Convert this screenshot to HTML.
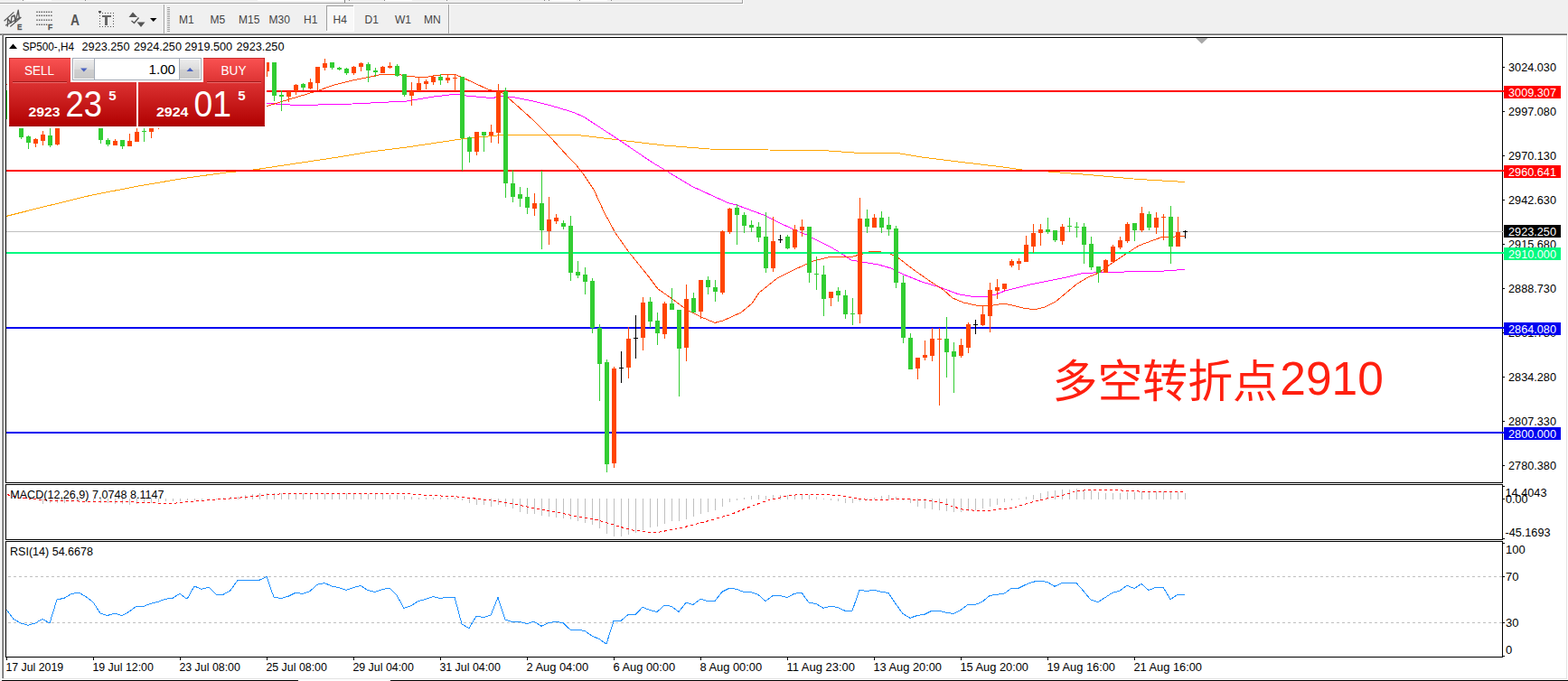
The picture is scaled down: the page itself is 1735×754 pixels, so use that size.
<!DOCTYPE html>
<html><head><meta charset="utf-8"><title>SP500-,H4</title>
<style>
html,body{margin:0;padding:0}
body{width:1735px;height:754px;background:#f0f0f0;overflow:hidden;position:relative;font-family:"Liberation Sans",sans-serif}
svg{position:absolute;left:0;top:0;display:block}
text{font-family:"Liberation Sans",sans-serif}
.ax{font-size:13px;fill:#000}
.tb{font-size:12px;fill:#444}
</style></head><body>
<svg width="1735" height="754" viewBox="0 0 1735 754">
<defs>
<linearGradient id="gtab" x1="0" y1="0" x2="0" y2="1"><stop offset="0" stop-color="#fa5252"/><stop offset="1" stop-color="#dc3232"/></linearGradient>
<linearGradient id="gbig" x1="0" y1="0" x2="0" y2="1"><stop offset="0" stop-color="#dc3232"/><stop offset="1" stop-color="#b00000"/></linearGradient>
<linearGradient id="gbtn" x1="0" y1="0" x2="0" y2="1"><stop offset="0" stop-color="#ececec"/><stop offset="0.5" stop-color="#dcdcdc"/><stop offset="0.5" stop-color="#d0d0d0"/><stop offset="1" stop-color="#c8c8c8"/></linearGradient>
<clipPath id="cmain"><rect x="7" y="42" width="1655" height="492"/></clipPath>
</defs>

<g shape-rendering="crispEdges">
<rect x="0" y="0" width="1735" height="754" fill="#f0f0f0"/>
<rect x="0" y="3" width="822" height="1" fill="#a0a0a0"/><rect x="0" y="4" width="823" height="1" fill="#fff"/>
<rect x="821" y="0" width="1" height="4" fill="#a0a0a0"/><rect x="822" y="0" width="1" height="5" fill="#fff"/>
<rect x="26" y="0" width="31" height="1" fill="#fff"/><rect x="25" y="0" width="1" height="1" fill="#888"/><rect x="94" y="0" width="1" height="1" fill="#888"/>
<rect x="608" y="0" width="30" height="1" fill="#fff"/><rect x="642" y="0" width="30" height="1" fill="#fff"/>
<rect x="602" y="0" width="1" height="1" fill="#888"/>
<rect x="607" y="0" width="1" height="1" fill="#888"/>
<rect x="641" y="0" width="1" height="1" fill="#888"/>
<rect x="676" y="0" width="1" height="1" fill="#888"/>
<rect x="386" y="0" width="1" height="1" fill="#888"/>
<rect x="425" y="0" width="1" height="1" fill="#888"/>
<rect x="494" y="0" width="1" height="1" fill="#888"/>
<rect x="285" y="0" width="95" height="1" fill="#fff"/><rect x="426" y="0" width="30" height="1" fill="#fff"/><rect x="381" y="0" width="1" height="3" fill="#888"/>
<rect x="0" y="37" width="1735" height="1" fill="#a0a0a0"/><rect x="0" y="38" width="1735" height="1" fill="#696969"/>
<rect x="0" y="39" width="1733" height="712" fill="#fff"/>
<rect x="2" y="38" width="1" height="713" fill="#a0a0a0"/><rect x="3" y="39" width="1" height="712" fill="#696969"/>
<rect x="0" y="39" width="1" height="713" fill="#f0f0f0"/><rect x="1" y="39" width="1" height="713" fill="#fff"/>
<rect x="1733" y="39" width="1" height="713" fill="#e3e3e3"/><rect x="1734" y="37" width="1" height="716" fill="#fff"/>
<rect x="3" y="751" width="1731" height="1" fill="#e3e3e3"/><rect x="1" y="752" width="1734" height="1" fill="#fff"/><rect x="2" y="753" width="1733" height="1" fill="#000"/><rect x="330" y="753" width="102" height="1" fill="#fff"/>
<rect x="181" y="5" width="1" height="32" fill="#a0a0a0"/><rect x="182" y="5" width="1" height="32" fill="#fff"/>
<rect x="185" y="8" width="3" height="1" fill="#a0a0a0"/>
<rect x="185" y="10" width="3" height="1" fill="#a0a0a0"/>
<rect x="185" y="12" width="3" height="1" fill="#a0a0a0"/>
<rect x="185" y="14" width="3" height="1" fill="#a0a0a0"/>
<rect x="185" y="16" width="3" height="1" fill="#a0a0a0"/>
<rect x="185" y="18" width="3" height="1" fill="#a0a0a0"/>
<rect x="185" y="20" width="3" height="1" fill="#a0a0a0"/>
<rect x="185" y="22" width="3" height="1" fill="#a0a0a0"/>
<rect x="185" y="24" width="3" height="1" fill="#a0a0a0"/>
<rect x="185" y="26" width="3" height="1" fill="#a0a0a0"/>
<rect x="185" y="28" width="3" height="1" fill="#a0a0a0"/>
<rect x="185" y="30" width="3" height="1" fill="#a0a0a0"/>
<rect x="185" y="32" width="3" height="1" fill="#a0a0a0"/>
<rect x="185" y="34" width="3" height="1" fill="#a0a0a0"/>
<rect x="496" y="5" width="1" height="32" fill="#a0a0a0"/><rect x="497" y="5" width="1" height="32" fill="#fff"/>
<rect x="361" y="6" width="31" height="29" fill="#f8f8f8"/><rect x="361" y="6" width="31" height="1" fill="#a0a0a0"/><rect x="361" y="6" width="1" height="29" fill="#a0a0a0"/><rect x="361" y="34" width="31" height="1" fill="#fff"/><rect x="391" y="6" width="1" height="29" fill="#fff"/>
</g>
<text class="tb" x="198" y="26">M1</text>
<text class="tb" x="232.5" y="26">M5</text>
<text class="tb" x="264" y="26">M15</text>
<text class="tb" x="297.5" y="26">M30</text>
<text class="tb" x="336" y="26">H1</text>
<text class="tb" x="368.5" y="26">H4</text>
<text class="tb" x="403.5" y="26">D1</text>
<text class="tb" x="437" y="26">W1</text>
<text class="tb" x="469" y="26">MN</text>
<g fill="none" stroke="#5a5a5a" stroke-width="1.2">
<path d="M4.6 23.2 L15.4 13.4 M6.1 28.2 L22.8 19.1 M11.3 29.5 L23.5 19.1"/>
<path d="M8.3 29.5 L8.7 20.6 L12 25.5 L13 18.5 L16.1 17 L16.9 24.3 L20.2 11.3 L21.3 19.9" stroke-width="1.4" stroke-linejoin="round"/>
</g>
<text x="19" y="32.8" font-size="9.8" font-weight="bold" fill="#555" stroke="#555" stroke-width="0.3" textLength="5.4" lengthAdjust="spacingAndGlyphs">E</text>
<g fill="#555">
<rect x="40.30" y="12.6" width="1.4" height="1.4"/>
<rect x="42.94" y="12.6" width="1.4" height="1.4"/>
<rect x="45.58" y="12.6" width="1.4" height="1.4"/>
<rect x="48.22" y="12.6" width="1.4" height="1.4"/>
<rect x="50.86" y="12.6" width="1.4" height="1.4"/>
<rect x="53.50" y="12.6" width="1.4" height="1.4"/>
<rect x="56.14" y="12.6" width="1.4" height="1.4"/>
<rect x="40.30" y="16.6" width="1.4" height="1.4"/>
<rect x="42.94" y="16.6" width="1.4" height="1.4"/>
<rect x="45.58" y="16.6" width="1.4" height="1.4"/>
<rect x="48.22" y="16.6" width="1.4" height="1.4"/>
<rect x="50.86" y="16.6" width="1.4" height="1.4"/>
<rect x="53.50" y="16.6" width="1.4" height="1.4"/>
<rect x="56.14" y="16.6" width="1.4" height="1.4"/>
<rect x="40.30" y="21.5" width="1.4" height="1.4"/>
<rect x="42.94" y="21.5" width="1.4" height="1.4"/>
<rect x="45.58" y="21.5" width="1.4" height="1.4"/>
<rect x="48.22" y="21.5" width="1.4" height="1.4"/>
<rect x="50.86" y="21.5" width="1.4" height="1.4"/>
<rect x="53.50" y="21.5" width="1.4" height="1.4"/>
<rect x="56.14" y="21.5" width="1.4" height="1.4"/>
<rect x="40.30" y="26.6" width="1.4" height="1.4"/>
<rect x="42.94" y="26.6" width="1.4" height="1.4"/>
<rect x="45.58" y="26.6" width="1.4" height="1.4"/>
<rect x="48.22" y="26.6" width="1.4" height="1.4"/>
<rect x="50.86" y="26.6" width="1.4" height="1.4"/>
</g>
<text x="53" y="32.8" font-size="9.8" font-weight="bold" fill="#555" stroke="#555" stroke-width="0.3" textLength="5.2" lengthAdjust="spacingAndGlyphs">F</text>
<text x="78" y="27.7" font-size="16.4" font-weight="bold" fill="#555" textLength="10" lengthAdjust="spacingAndGlyphs">A</text>
<g shape-rendering="crispEdges" fill="#555">
<rect x="110" y="14" width="1" height="1"/><rect x="110" y="29" width="1" height="1"/>
<rect x="113" y="14" width="1" height="1"/><rect x="113" y="29" width="1" height="1"/>
<rect x="116" y="14" width="1" height="1"/><rect x="116" y="29" width="1" height="1"/>
<rect x="119" y="14" width="1" height="1"/><rect x="119" y="29" width="1" height="1"/>
<rect x="122" y="14" width="1" height="1"/><rect x="122" y="29" width="1" height="1"/>
<rect x="125" y="14" width="1" height="1"/><rect x="125" y="29" width="1" height="1"/>
<rect x="110" y="14" width="1" height="1"/><rect x="125" y="14" width="1" height="1"/>
<rect x="110" y="17" width="1" height="1"/><rect x="125" y="17" width="1" height="1"/>
<rect x="110" y="20" width="1" height="1"/><rect x="125" y="20" width="1" height="1"/>
<rect x="110" y="23" width="1" height="1"/><rect x="125" y="23" width="1" height="1"/>
<rect x="110" y="26" width="1" height="1"/><rect x="125" y="26" width="1" height="1"/>
<rect x="110" y="29" width="1" height="1"/><rect x="125" y="29" width="1" height="1"/>
<rect x="109" y="12" width="3" height="2"/>
<rect x="113" y="17" width="10" height="2" fill="#666"/><rect x="116" y="19" width="3" height="9" fill="#666"/>
</g>
<path d="M147 13.5 L152 19 L142.5 19 Z M156 30 L160.5 24.5 L151.5 24.5 Z" fill="#555"/>
<path d="M145.5 23 L148.5 25.5 L153.5 19.5" fill="none" stroke="#555" stroke-width="1.4"/>
<path d="M166 20 L173.5 20 L169.75 24 Z" fill="#000"/>
<g shape-rendering="crispEdges" fill="#000">
<rect x="6" y="41" width="1657" height="1"/><rect x="6" y="41" width="1" height="494"/><rect x="6" y="534" width="1657" height="1"/><rect x="1662" y="41" width="1" height="687"/>
<rect x="6" y="536" width="1657" height="1"/><rect x="6" y="536" width="1" height="62"/><rect x="6" y="597" width="1657" height="1"/>
<rect x="6" y="599" width="1657" height="1"/><rect x="6" y="599" width="1" height="129"/><rect x="6" y="727" width="1657" height="1"/>
<rect x="1662" y="535" width="1" height="1" fill="#fff"/><rect x="1662" y="598" width="1" height="1" fill="#fff"/>
<rect x="7" y="728" width="1" height="3"/>
<rect x="103" y="728" width="1" height="3"/>
<rect x="199" y="728" width="1" height="3"/>
<rect x="295" y="728" width="1" height="3"/>
<rect x="391" y="728" width="1" height="3"/>
<rect x="487" y="728" width="1" height="3"/>
<rect x="583" y="728" width="1" height="3"/>
<rect x="679" y="728" width="1" height="3"/>
<rect x="775" y="728" width="1" height="3"/>
<rect x="871" y="728" width="1" height="3"/>
<rect x="967" y="728" width="1" height="3"/>
<rect x="1063" y="728" width="1" height="3"/>
<rect x="1159" y="728" width="1" height="3"/>
<rect x="1255" y="728" width="1" height="3"/>
<rect x="1663" y="74" width="2" height="1"/>
<rect x="1663" y="123" width="2" height="1"/>
<rect x="1663" y="172" width="2" height="1"/>
<rect x="1663" y="221" width="2" height="1"/>
<rect x="1663" y="270" width="2" height="1"/>
<rect x="1663" y="319" width="2" height="1"/>
<rect x="1663" y="368" width="2" height="1"/>
<rect x="1663" y="417" width="2" height="1"/>
<rect x="1663" y="466" width="2" height="1"/>
<rect x="1663" y="515" width="2" height="1"/>
<rect x="1663" y="538" width="2" height="1"/>
<rect x="1663" y="552" width="2" height="1"/>
<rect x="1663" y="596" width="2" height="1"/>
<rect x="1663" y="601" width="2" height="1"/>
<rect x="1663" y="638" width="2" height="1"/>
<rect x="1663" y="689" width="2" height="1"/>
<rect x="1663" y="726" width="2" height="1"/>
</g>
<path d="M1323 42 L1336.5 42 L1329.75 48.5 Z" fill="#a8a8a8"/>
<g clip-path="url(#cmain)">
<polyline points="7,239.4 50,228.6 100,216.4 150,206.6 200,198 250,191 266,189.6 284,187.6 290,186.6 330,180.6 370,174.6 410,168 450,163 490,157 510,154 556,149.4 562,149 635,149 685,155 735,161 785,165 850,166 910,166.5 945,169 990,169 1020,174 1060,179 1110,185 1135,188.5 1160,190 1210,194 1260,198.5 1311,201.5" fill="none" stroke="#FFA500" stroke-width="1" shape-rendering="crispEdges"/>
<polyline points="295,114.4 330,116.6 390,115 450,112 480,107 506,104 516,106 544,108.6 556,106.6 570,108 590,112 610,117 630,123 637,125.4 647,130 685,155 722,180 737,189 765,206 805,224.4 815,227 845,238 865,248 885,257 892,259.6 900,264 920,274 930,280 942,288 960,291 972,293 986,297 1000,304 1020,312 1040,318 1060,325.6 1076,328.4 1092,328.4 1102,326 1112,322 1140,315 1180,307 1196,303 1216,301.6 1227,301.2 1280,300.6 1311,298.4" fill="none" stroke="#FF00FF" stroke-width="1" shape-rendering="crispEdges"/>
<polyline points="295,117.6 320,110 350,101 370,94 390,89 410,85 422,82.4 438,82 450,84 462,85.4 474,85 482,83.4 502,82 510,85 540,99 556,103 570,115 590,133 610,153 630,175 637,182 645,192 657,210 669,236 681,258 695,278 711,298 716,304 728,320 744,331 760,343 776,351 791,357.4 800,355 820,346 832,336 840,324 860,308 880,298 900,289 920,284 940,285 955,281 963,278.4 972,278.4 985,281 992,284 1010,298 1030,312 1044,321 1054,330 1066,335 1080,338 1096,338.6 1110,336 1120,338 1134,341.6 1146,342.6 1156,340 1168,334 1180,324 1192,314 1204,307 1216,302 1228,293 1246,281 1260,272 1276,266 1287,262 1300,262 1311,261.4" fill="none" stroke="#FF4500" stroke-width="1" shape-rendering="crispEdges"/>
<g shape-rendering="crispEdges">
<rect x="7" y="100" width="1655" height="2" fill="#FF0000"/>
<rect x="7" y="188" width="1655" height="2" fill="#FF0000"/>
<rect x="7" y="279" width="1655" height="2" fill="#00FA80"/>
<rect x="7" y="362" width="1655" height="2" fill="#0000F0"/>
<rect x="7" y="478" width="1655" height="2" fill="#0000F0"/>
<rect x="7" y="256" width="1655" height="1" fill="#C0C0C0"/>
</g>
<g shape-rendering="crispEdges">
<rect x="7" y="100" width="1" height="32" fill="#32CD32"/>
<rect x="5" y="100" width="5" height="32" fill="#32CD32"/>
<rect x="23" y="135" width="1" height="19" fill="#32CD32"/>
<rect x="21" y="135" width="5" height="17" fill="#32CD32"/>
<rect x="31" y="150" width="1" height="15" fill="#32CD32"/>
<rect x="29" y="151" width="5" height="7" fill="#32CD32"/>
<rect x="39" y="153" width="1" height="10" fill="#FF4500"/>
<rect x="37" y="154" width="5" height="5" fill="#FF4500"/>
<rect x="47" y="145" width="1" height="16" fill="#FF4500"/>
<rect x="45" y="149" width="5" height="7" fill="#FF4500"/>
<rect x="55" y="135" width="1" height="28" fill="#32CD32"/>
<rect x="53" y="150" width="5" height="11" fill="#32CD32"/>
<rect x="63" y="135" width="1" height="26" fill="#FF4500"/>
<rect x="61" y="135" width="5" height="25" fill="#FF4500"/>
<rect x="111" y="135" width="1" height="24" fill="#32CD32"/>
<rect x="109" y="135" width="5" height="20" fill="#32CD32"/>
<rect x="119" y="153" width="1" height="9" fill="#32CD32"/>
<rect x="117" y="155" width="5" height="5" fill="#32CD32"/>
<rect x="127" y="154" width="1" height="7" fill="#FF4500"/>
<rect x="125" y="156" width="5" height="5" fill="#FF4500"/>
<rect x="135" y="155" width="1" height="10" fill="#32CD32"/>
<rect x="133" y="155" width="5" height="7" fill="#32CD32"/>
<rect x="143" y="148" width="1" height="14" fill="#FF4500"/>
<rect x="141" y="156" width="5" height="6" fill="#FF4500"/>
<rect x="151" y="135" width="1" height="22" fill="#FF4500"/>
<rect x="149" y="146" width="5" height="11" fill="#FF4500"/>
<rect x="159" y="135" width="1" height="22" fill="#32CD32"/>
<rect x="157" y="145" width="5" height="1" fill="#32CD32"/>
<rect x="167" y="135" width="1" height="18" fill="#FF4500"/>
<rect x="165" y="135" width="5" height="11" fill="#FF4500"/>
<rect x="175" y="135" width="1" height="8" fill="#FF4500"/>
<rect x="173" y="135" width="5" height="2" fill="#FF4500"/>
<rect x="295" y="69" width="1" height="16" fill="#FF4500"/>
<rect x="293" y="69" width="5" height="10" fill="#FF4500"/>
<rect x="303" y="69" width="1" height="43" fill="#32CD32"/>
<rect x="301" y="69" width="5" height="37" fill="#32CD32"/>
<rect x="311" y="100" width="1" height="23" fill="#32CD32"/>
<rect x="309" y="105" width="5" height="2" fill="#32CD32"/>
<rect x="319" y="101" width="1" height="12" fill="#FF4500"/>
<rect x="317" y="101" width="5" height="6" fill="#FF4500"/>
<rect x="327" y="93" width="1" height="12" fill="#FF4500"/>
<rect x="325" y="94" width="5" height="7" fill="#FF4500"/>
<rect x="335" y="92" width="1" height="8" fill="#32CD32"/>
<rect x="333" y="93" width="5" height="4" fill="#32CD32"/>
<rect x="343" y="87" width="1" height="12" fill="#FF4500"/>
<rect x="341" y="91" width="5" height="7" fill="#FF4500"/>
<rect x="351" y="74" width="1" height="26" fill="#FF4500"/>
<rect x="349" y="74" width="5" height="18" fill="#FF4500"/>
<rect x="359" y="65" width="1" height="13" fill="#FF4500"/>
<rect x="357" y="70" width="5" height="5" fill="#FF4500"/>
<rect x="367" y="69" width="1" height="8" fill="#32CD32"/>
<rect x="365" y="69" width="5" height="6" fill="#32CD32"/>
<rect x="375" y="74" width="1" height="4" fill="#32CD32"/>
<rect x="373" y="75" width="5" height="2" fill="#32CD32"/>
<rect x="383" y="75" width="1" height="8" fill="#32CD32"/>
<rect x="381" y="76" width="5" height="5" fill="#32CD32"/>
<rect x="391" y="73" width="1" height="10" fill="#FF4500"/>
<rect x="389" y="74" width="5" height="7" fill="#FF4500"/>
<rect x="399" y="69" width="1" height="10" fill="#FF4500"/>
<rect x="397" y="70" width="5" height="4" fill="#FF4500"/>
<rect x="407" y="69" width="1" height="22" fill="#32CD32"/>
<rect x="405" y="71" width="5" height="7" fill="#32CD32"/>
<rect x="415" y="75" width="1" height="10" fill="#32CD32"/>
<rect x="413" y="78" width="5" height="2" fill="#32CD32"/>
<rect x="423" y="73" width="1" height="8" fill="#FF4500"/>
<rect x="421" y="74" width="5" height="7" fill="#FF4500"/>
<rect x="431" y="69" width="1" height="7" fill="#FF4500"/>
<rect x="429" y="73" width="5" height="2" fill="#FF4500"/>
<rect x="439" y="71" width="1" height="14" fill="#32CD32"/>
<rect x="437" y="73" width="5" height="11" fill="#32CD32"/>
<rect x="447" y="82" width="1" height="25" fill="#32CD32"/>
<rect x="445" y="82" width="5" height="23" fill="#32CD32"/>
<rect x="455" y="91" width="1" height="26" fill="#FF4500"/>
<rect x="453" y="101" width="5" height="5" fill="#FF4500"/>
<rect x="463" y="86" width="1" height="15" fill="#FF4500"/>
<rect x="461" y="92" width="5" height="9" fill="#FF4500"/>
<rect x="471" y="88" width="1" height="11" fill="#FF4500"/>
<rect x="469" y="90" width="5" height="3" fill="#FF4500"/>
<rect x="479" y="83" width="1" height="11" fill="#FF4500"/>
<rect x="477" y="85" width="5" height="6" fill="#FF4500"/>
<rect x="487" y="82" width="1" height="12" fill="#32CD32"/>
<rect x="485" y="85" width="5" height="4" fill="#32CD32"/>
<rect x="495" y="83" width="1" height="9" fill="#FF4500"/>
<rect x="493" y="86" width="5" height="3" fill="#FF4500"/>
<rect x="503" y="82" width="1" height="19" fill="#FF4500"/>
<rect x="501" y="86" width="5" height="1" fill="#FF4500"/>
<rect x="511" y="85" width="1" height="104" fill="#32CD32"/>
<rect x="509" y="85" width="5" height="68" fill="#32CD32"/>
<rect x="519" y="151" width="1" height="29" fill="#32CD32"/>
<rect x="517" y="152" width="5" height="16" fill="#32CD32"/>
<rect x="527" y="146" width="1" height="26" fill="#FF4500"/>
<rect x="525" y="146" width="5" height="22" fill="#FF4500"/>
<rect x="535" y="146" width="1" height="22" fill="#32CD32"/>
<rect x="533" y="146" width="5" height="4" fill="#32CD32"/>
<rect x="543" y="138" width="1" height="20" fill="#FF4500"/>
<rect x="541" y="146" width="5" height="4" fill="#FF4500"/>
<rect x="551" y="93" width="1" height="66" fill="#FF4500"/>
<rect x="549" y="101" width="5" height="46" fill="#FF4500"/>
<rect x="559" y="97" width="1" height="122" fill="#32CD32"/>
<rect x="557" y="101" width="5" height="102" fill="#32CD32"/>
<rect x="567" y="188" width="1" height="36" fill="#32CD32"/>
<rect x="565" y="203" width="5" height="15" fill="#32CD32"/>
<rect x="575" y="207" width="1" height="22" fill="#32CD32"/>
<rect x="573" y="215" width="5" height="5" fill="#32CD32"/>
<rect x="583" y="208" width="1" height="29" fill="#32CD32"/>
<rect x="581" y="218" width="5" height="12" fill="#32CD32"/>
<rect x="591" y="214" width="1" height="25" fill="#FF4500"/>
<rect x="589" y="225" width="5" height="6" fill="#FF4500"/>
<rect x="599" y="189" width="1" height="87" fill="#32CD32"/>
<rect x="597" y="225" width="5" height="30" fill="#32CD32"/>
<rect x="607" y="218" width="1" height="53" fill="#FF4500"/>
<rect x="605" y="243" width="5" height="13" fill="#FF4500"/>
<rect x="615" y="237" width="1" height="11" fill="#FF4500"/>
<rect x="613" y="241" width="5" height="4" fill="#FF4500"/>
<rect x="623" y="244" width="1" height="10" fill="#32CD32"/>
<rect x="621" y="247" width="5" height="4" fill="#32CD32"/>
<rect x="631" y="239" width="1" height="72" fill="#32CD32"/>
<rect x="629" y="250" width="5" height="52" fill="#32CD32"/>
<rect x="639" y="289" width="1" height="19" fill="#32CD32"/>
<rect x="637" y="301" width="5" height="4" fill="#32CD32"/>
<rect x="647" y="296" width="1" height="30" fill="#32CD32"/>
<rect x="645" y="304" width="5" height="8" fill="#32CD32"/>
<rect x="655" y="308" width="1" height="61" fill="#32CD32"/>
<rect x="653" y="311" width="5" height="52" fill="#32CD32"/>
<rect x="663" y="359" width="1" height="85" fill="#32CD32"/>
<rect x="661" y="363" width="5" height="40" fill="#32CD32"/>
<rect x="671" y="398" width="1" height="125" fill="#32CD32"/>
<rect x="669" y="401" width="5" height="113" fill="#32CD32"/>
<rect x="679" y="406" width="1" height="112" fill="#FF4500"/>
<rect x="677" y="408" width="5" height="105" fill="#FF4500"/>
<rect x="687" y="389" width="1" height="35" fill="#000"/>
<rect x="685" y="407" width="5" height="1" fill="#000"/>
<rect x="695" y="362" width="1" height="57" fill="#FF4500"/>
<rect x="693" y="375" width="5" height="32" fill="#FF4500"/>
<rect x="703" y="349" width="1" height="48" fill="#000"/>
<rect x="701" y="374" width="5" height="1" fill="#000"/>
<rect x="711" y="329" width="1" height="59" fill="#FF4500"/>
<rect x="709" y="335" width="5" height="39" fill="#FF4500"/>
<rect x="719" y="329" width="1" height="34" fill="#32CD32"/>
<rect x="717" y="334" width="5" height="22" fill="#32CD32"/>
<rect x="727" y="346" width="1" height="36" fill="#32CD32"/>
<rect x="725" y="355" width="5" height="14" fill="#32CD32"/>
<rect x="735" y="334" width="1" height="41" fill="#FF4500"/>
<rect x="733" y="336" width="5" height="34" fill="#FF4500"/>
<rect x="743" y="319" width="1" height="24" fill="#32CD32"/>
<rect x="741" y="336" width="5" height="7" fill="#32CD32"/>
<rect x="751" y="343" width="1" height="96" fill="#32CD32"/>
<rect x="749" y="343" width="5" height="43" fill="#32CD32"/>
<rect x="759" y="315" width="1" height="85" fill="#FF4500"/>
<rect x="757" y="331" width="5" height="54" fill="#FF4500"/>
<rect x="767" y="324" width="1" height="22" fill="#32CD32"/>
<rect x="765" y="330" width="5" height="16" fill="#32CD32"/>
<rect x="775" y="310" width="1" height="43" fill="#FF4500"/>
<rect x="773" y="310" width="5" height="35" fill="#FF4500"/>
<rect x="783" y="306" width="1" height="20" fill="#32CD32"/>
<rect x="781" y="310" width="5" height="8" fill="#32CD32"/>
<rect x="791" y="310" width="1" height="24" fill="#32CD32"/>
<rect x="789" y="318" width="5" height="5" fill="#32CD32"/>
<rect x="799" y="255" width="1" height="71" fill="#FF4500"/>
<rect x="797" y="256" width="5" height="68" fill="#FF4500"/>
<rect x="807" y="230" width="1" height="29" fill="#FF4500"/>
<rect x="805" y="231" width="5" height="26" fill="#FF4500"/>
<rect x="815" y="226" width="1" height="45" fill="#32CD32"/>
<rect x="813" y="230" width="5" height="8" fill="#32CD32"/>
<rect x="823" y="235" width="1" height="23" fill="#32CD32"/>
<rect x="821" y="238" width="5" height="12" fill="#32CD32"/>
<rect x="831" y="244" width="1" height="13" fill="#32CD32"/>
<rect x="829" y="249" width="5" height="3" fill="#32CD32"/>
<rect x="839" y="246" width="1" height="22" fill="#32CD32"/>
<rect x="837" y="251" width="5" height="12" fill="#32CD32"/>
<rect x="847" y="235" width="1" height="67" fill="#32CD32"/>
<rect x="845" y="262" width="5" height="35" fill="#32CD32"/>
<rect x="855" y="240" width="1" height="61" fill="#FF4500"/>
<rect x="853" y="267" width="5" height="30" fill="#FF4500"/>
<rect x="863" y="260" width="1" height="9" fill="#000"/>
<rect x="861" y="265" width="5" height="1" fill="#000"/>
<rect x="871" y="260" width="1" height="16" fill="#32CD32"/>
<rect x="869" y="262" width="5" height="13" fill="#32CD32"/>
<rect x="879" y="249" width="1" height="27" fill="#FF4500"/>
<rect x="877" y="254" width="5" height="20" fill="#FF4500"/>
<rect x="887" y="243" width="1" height="19" fill="#FF4500"/>
<rect x="885" y="251" width="5" height="4" fill="#FF4500"/>
<rect x="895" y="251" width="1" height="62" fill="#32CD32"/>
<rect x="893" y="251" width="5" height="51" fill="#32CD32"/>
<rect x="903" y="284" width="1" height="37" fill="#32CD32"/>
<rect x="901" y="303" width="5" height="1" fill="#32CD32"/>
<rect x="911" y="294" width="1" height="56" fill="#32CD32"/>
<rect x="909" y="304" width="5" height="27" fill="#32CD32"/>
<rect x="919" y="323" width="1" height="16" fill="#FF4500"/>
<rect x="917" y="323" width="5" height="7" fill="#FF4500"/>
<rect x="927" y="318" width="1" height="16" fill="#32CD32"/>
<rect x="925" y="322" width="5" height="5" fill="#32CD32"/>
<rect x="935" y="321" width="1" height="32" fill="#32CD32"/>
<rect x="933" y="327" width="5" height="21" fill="#32CD32"/>
<rect x="943" y="330" width="1" height="30" fill="#32CD32"/>
<rect x="941" y="347" width="5" height="1" fill="#32CD32"/>
<rect x="951" y="219" width="1" height="139" fill="#FF4500"/>
<rect x="949" y="242" width="5" height="106" fill="#FF4500"/>
<rect x="959" y="232" width="1" height="26" fill="#32CD32"/>
<rect x="957" y="242" width="5" height="9" fill="#32CD32"/>
<rect x="967" y="237" width="1" height="15" fill="#FF4500"/>
<rect x="965" y="241" width="5" height="11" fill="#FF4500"/>
<rect x="975" y="234" width="1" height="24" fill="#32CD32"/>
<rect x="973" y="241" width="5" height="11" fill="#32CD32"/>
<rect x="983" y="240" width="1" height="21" fill="#32CD32"/>
<rect x="981" y="249" width="5" height="5" fill="#32CD32"/>
<rect x="991" y="250" width="1" height="69" fill="#32CD32"/>
<rect x="989" y="253" width="5" height="60" fill="#32CD32"/>
<rect x="999" y="305" width="1" height="75" fill="#32CD32"/>
<rect x="997" y="313" width="5" height="61" fill="#32CD32"/>
<rect x="1007" y="369" width="1" height="40" fill="#32CD32"/>
<rect x="1005" y="374" width="5" height="35" fill="#32CD32"/>
<rect x="1015" y="396" width="1" height="24" fill="#FF4500"/>
<rect x="1013" y="396" width="5" height="12" fill="#FF4500"/>
<rect x="1023" y="377" width="1" height="22" fill="#FF4500"/>
<rect x="1021" y="393" width="5" height="3" fill="#FF4500"/>
<rect x="1031" y="363" width="1" height="37" fill="#FF4500"/>
<rect x="1029" y="375" width="5" height="19" fill="#FF4500"/>
<rect x="1039" y="363" width="1" height="86" fill="#FF4500"/>
<rect x="1037" y="375" width="5" height="1" fill="#FF4500"/>
<rect x="1047" y="351" width="1" height="67" fill="#32CD32"/>
<rect x="1045" y="375" width="5" height="15" fill="#32CD32"/>
<rect x="1055" y="379" width="1" height="56" fill="#32CD32"/>
<rect x="1053" y="389" width="5" height="6" fill="#32CD32"/>
<rect x="1063" y="375" width="1" height="21" fill="#FF4500"/>
<rect x="1061" y="382" width="5" height="12" fill="#FF4500"/>
<rect x="1071" y="357" width="1" height="34" fill="#FF4500"/>
<rect x="1069" y="359" width="5" height="26" fill="#FF4500"/>
<rect x="1079" y="354" width="1" height="16" fill="#000"/>
<rect x="1077" y="359" width="5" height="1" fill="#000"/>
<rect x="1087" y="338" width="1" height="23" fill="#FF4500"/>
<rect x="1085" y="348" width="5" height="12" fill="#FF4500"/>
<rect x="1095" y="313" width="1" height="55" fill="#FF4500"/>
<rect x="1093" y="321" width="5" height="29" fill="#FF4500"/>
<rect x="1103" y="309" width="1" height="22" fill="#FF4500"/>
<rect x="1101" y="318" width="5" height="4" fill="#FF4500"/>
<rect x="1111" y="314" width="1" height="8" fill="#FF4500"/>
<rect x="1109" y="314" width="5" height="6" fill="#FF4500"/>
<rect x="1119" y="287" width="1" height="9" fill="#FF4500"/>
<rect x="1117" y="289" width="5" height="5" fill="#FF4500"/>
<rect x="1127" y="286" width="1" height="13" fill="#FF4500"/>
<rect x="1125" y="289" width="5" height="3" fill="#FF4500"/>
<rect x="1135" y="261" width="1" height="29" fill="#FF4500"/>
<rect x="1133" y="271" width="5" height="19" fill="#FF4500"/>
<rect x="1143" y="248" width="1" height="32" fill="#FF4500"/>
<rect x="1141" y="258" width="5" height="15" fill="#FF4500"/>
<rect x="1151" y="248" width="1" height="24" fill="#FF4500"/>
<rect x="1149" y="254" width="5" height="4" fill="#FF4500"/>
<rect x="1159" y="241" width="1" height="18" fill="#32CD32"/>
<rect x="1157" y="254" width="5" height="3" fill="#32CD32"/>
<rect x="1167" y="255" width="1" height="13" fill="#32CD32"/>
<rect x="1165" y="255" width="5" height="11" fill="#32CD32"/>
<rect x="1175" y="248" width="1" height="23" fill="#FF4500"/>
<rect x="1173" y="251" width="5" height="16" fill="#FF4500"/>
<rect x="1183" y="241" width="1" height="16" fill="#32CD32"/>
<rect x="1181" y="250" width="5" height="1" fill="#32CD32"/>
<rect x="1191" y="246" width="1" height="17" fill="#32CD32"/>
<rect x="1189" y="251" width="5" height="1" fill="#32CD32"/>
<rect x="1199" y="247" width="1" height="45" fill="#32CD32"/>
<rect x="1197" y="251" width="5" height="20" fill="#32CD32"/>
<rect x="1207" y="262" width="1" height="37" fill="#32CD32"/>
<rect x="1205" y="270" width="5" height="26" fill="#32CD32"/>
<rect x="1215" y="295" width="1" height="18" fill="#32CD32"/>
<rect x="1213" y="295" width="5" height="7" fill="#32CD32"/>
<rect x="1223" y="287" width="1" height="15" fill="#FF4500"/>
<rect x="1221" y="288" width="5" height="14" fill="#FF4500"/>
<rect x="1231" y="271" width="1" height="19" fill="#FF4500"/>
<rect x="1229" y="273" width="5" height="17" fill="#FF4500"/>
<rect x="1239" y="262" width="1" height="14" fill="#FF4500"/>
<rect x="1237" y="266" width="5" height="8" fill="#FF4500"/>
<rect x="1247" y="246" width="1" height="23" fill="#FF4500"/>
<rect x="1245" y="248" width="5" height="19" fill="#FF4500"/>
<rect x="1255" y="247" width="1" height="20" fill="#32CD32"/>
<rect x="1253" y="247" width="5" height="8" fill="#32CD32"/>
<rect x="1263" y="229" width="1" height="28" fill="#FF4500"/>
<rect x="1261" y="236" width="5" height="19" fill="#FF4500"/>
<rect x="1271" y="234" width="1" height="21" fill="#32CD32"/>
<rect x="1269" y="237" width="5" height="15" fill="#32CD32"/>
<rect x="1279" y="235" width="1" height="24" fill="#FF4500"/>
<rect x="1277" y="241" width="5" height="11" fill="#FF4500"/>
<rect x="1287" y="237" width="1" height="29" fill="#FF4500"/>
<rect x="1285" y="240" width="5" height="1" fill="#FF4500"/>
<rect x="1295" y="228" width="1" height="64" fill="#32CD32"/>
<rect x="1293" y="240" width="5" height="33" fill="#32CD32"/>
<rect x="1303" y="240" width="1" height="33" fill="#FF4500"/>
<rect x="1301" y="257" width="5" height="16" fill="#FF4500"/>
<rect x="1311" y="255" width="1" height="9" fill="#000"/>
<rect x="1309" y="256" width="5" height="1" fill="#000"/>
</g>
</g>
<g shape-rendering="crispEdges"><rect x="1662" y="100" width="2" height="2" fill="#FF0000"/><rect x="1662" y="188" width="2" height="2" fill="#FF0000"/><rect x="1662" y="279" width="2" height="2" fill="#00FA80"/><rect x="1662" y="362" width="2" height="2" fill="#0000F0"/><rect x="1662" y="478" width="2" height="2" fill="#0000F0"/><rect x="1662" y="256" width="2" height="1" fill="#C0C0C0"/><rect x="7" y="93" width="1" height="1" fill="#FF4500"/></g>
<text x="1164.5" y="439.6" font-size="49.9" fill="#FF2010" style="font-family:'Liberation Sans','Noto Sans CJK SC',sans-serif" textLength="249.5" lengthAdjust="spacingAndGlyphs">多空转折点</text>
<text x="1416.3" y="436.6" font-size="52.5" fill="#FF2010" textLength="114.5" lengthAdjust="spacingAndGlyphs">2910</text>
<g shape-rendering="crispEdges">
<rect x="8" y="62" width="287" height="80" fill="#fff"/>
<rect x="10" y="64" width="68" height="28" fill="url(#gtab)"/>
<rect x="225" y="64" width="68" height="28" fill="url(#gtab)"/>
<rect x="10" y="91" width="141" height="49" fill="url(#gbig)"/>
<rect x="153" y="91" width="140" height="49" fill="url(#gbig)"/>
<rect x="78" y="88" width="147" height="3" fill="#fff"/><rect x="78" y="64" width="3" height="27" fill="#fff"/><rect x="222" y="64" width="3" height="27" fill="#fff"/><rect x="151" y="91" width="2" height="49" fill="#fff"/>
<rect x="10" y="64" width="68" height="1" fill="#c83030"/><rect x="225" y="64" width="68" height="1" fill="#c83030"/>
<rect x="10" y="64" width="1" height="76" fill="#c02020"/><rect x="292" y="64" width="1" height="76" fill="#c02020"/>
<rect x="10" y="139" width="141" height="1" fill="#a00000"/><rect x="153" y="139" width="140" height="1" fill="#a00000"/>
<rect x="14" y="90" width="60" height="1" fill="#a01818"/><rect x="14" y="91" width="60" height="1" fill="#ee6a6a"/>
<rect x="229" y="90" width="60" height="1" fill="#a01818"/><rect x="229" y="91" width="60" height="1" fill="#ee6a6a"/>
<rect x="80" y="64" width="143" height="25" fill="#fff"/>
<rect x="80" y="64" width="143" height="1" fill="#a5acb8"/><rect x="80" y="88" width="143" height="1" fill="#a5acb8"/><rect x="80" y="64" width="1" height="25" fill="#a5acb8"/><rect x="222" y="64" width="1" height="25" fill="#a5acb8"/>
<rect x="82" y="66" width="22" height="21" fill="url(#gbtn)"/><rect x="104" y="65" width="1" height="23" fill="#a5acb8"/>
<rect x="199" y="66" width="22" height="21" fill="url(#gbtn)"/><rect x="198" y="65" width="1" height="23" fill="#a5acb8"/>
</g>
<path d="M89 75.5 L96.5 75.5 L92.75 79.5 Z" fill="#4a62c0"/><path d="M206.5 79 L214 79 L210.25 75 Z" fill="#4a62c0"/>
<text x="27" y="83" font-size="15.2" fill="#fff" textLength="33" lengthAdjust="spacingAndGlyphs">SELL</text>
<text x="244.5" y="83" font-size="15.2" fill="#fff" textLength="28" lengthAdjust="spacingAndGlyphs">BUY</text>
<text x="164.5" y="81.5" font-size="14.5" fill="#000" textLength="29.5" lengthAdjust="spacingAndGlyphs">1.00</text>
<text x="31.5" y="128.8" font-size="15" font-weight="bold" fill="#fff" textLength="35" lengthAdjust="spacingAndGlyphs">2923</text>
<text x="173" y="128.8" font-size="15" font-weight="bold" fill="#fff" textLength="35.5" lengthAdjust="spacingAndGlyphs">2924</text>
<text x="72.5" y="128.8" font-size="41.5" fill="#fff" textLength="40.5" lengthAdjust="spacingAndGlyphs">23</text>
<text x="214.5" y="128.8" font-size="41.5" fill="#fff" textLength="41.5" lengthAdjust="spacingAndGlyphs">01</text>
<text x="120.3" y="110.8" font-size="15" font-weight="bold" fill="#fff">5</text>
<text x="263.3" y="110.8" font-size="15" font-weight="bold" fill="#fff">5</text>
<path d="M10 54 L19 54 L14.5 48.5 Z" fill="#000"/>
<text class="ax" x="24.7" y="56" textLength="57.3" lengthAdjust="spacingAndGlyphs">SP500-,H4</text>
<text class="ax" x="90.5" y="56" textLength="53" lengthAdjust="spacingAndGlyphs">2923.250</text>
<text class="ax" x="148" y="56" textLength="53" lengthAdjust="spacingAndGlyphs">2924.250</text>
<text class="ax" x="204.2" y="56" textLength="53" lengthAdjust="spacingAndGlyphs">2919.500</text>
<text class="ax" x="261.5" y="56" textLength="53" lengthAdjust="spacingAndGlyphs">2923.250</text>
<text class="ax" x="1669" y="78.5" textLength="53" lengthAdjust="spacingAndGlyphs">3024.030</text>
<text class="ax" x="1669" y="127.5" textLength="53" lengthAdjust="spacingAndGlyphs">2997.080</text>
<text class="ax" x="1669" y="176.5" textLength="53" lengthAdjust="spacingAndGlyphs">2970.130</text>
<text class="ax" x="1669" y="225.5" textLength="53" lengthAdjust="spacingAndGlyphs">2942.630</text>
<text class="ax" x="1669" y="274.5" textLength="53" lengthAdjust="spacingAndGlyphs">2915.680</text>
<text class="ax" x="1669" y="323.5" textLength="53" lengthAdjust="spacingAndGlyphs">2888.730</text>
<text class="ax" x="1669" y="372.5" textLength="53" lengthAdjust="spacingAndGlyphs">2861.780</text>
<text class="ax" x="1669" y="421.5" textLength="53" lengthAdjust="spacingAndGlyphs">2834.280</text>
<text class="ax" x="1669" y="470.5" textLength="53" lengthAdjust="spacingAndGlyphs">2807.330</text>
<text class="ax" x="1669" y="519.5" textLength="53" lengthAdjust="spacingAndGlyphs">2780.380</text>
<g shape-rendering="crispEdges">
<rect x="1664" y="95" width="63" height="14" fill="#FF0000"/>
<rect x="1664" y="183" width="63" height="14" fill="#FF0000"/>
<rect x="1664" y="249" width="63" height="14" fill="#000"/>
<rect x="1664" y="274" width="63" height="14" fill="#00FA80"/>
<rect x="1664" y="357" width="63" height="14" fill="#0000F0"/>
<rect x="1664" y="473" width="63" height="14" fill="#0000F0"/>
</g>
<text x="1669" y="106.5" font-size="13" fill="#fff" textLength="53" lengthAdjust="spacingAndGlyphs">3009.307</text>
<text x="1669" y="194.5" font-size="13" fill="#fff" textLength="53" lengthAdjust="spacingAndGlyphs">2960.641</text>
<text x="1669" y="260.5" font-size="13" fill="#fff" textLength="53" lengthAdjust="spacingAndGlyphs">2923.250</text>
<text x="1669" y="285.5" font-size="13" fill="#fff" textLength="53" lengthAdjust="spacingAndGlyphs">2910.000</text>
<text x="1669" y="368.5" font-size="13" fill="#fff" textLength="53" lengthAdjust="spacingAndGlyphs">2864.080</text>
<text x="1669" y="484.5" font-size="13" fill="#fff" textLength="53" lengthAdjust="spacingAndGlyphs">2800.000</text>
<g shape-rendering="crispEdges" fill="#C0C0C0">
<rect x="47" y="552" width="1" height="6"/>
<rect x="55" y="552" width="1" height="5"/>
<rect x="63" y="552" width="1" height="5"/>
<rect x="71" y="552" width="1" height="5"/>
<rect x="79" y="552" width="1" height="4"/>
<rect x="87" y="552" width="1" height="4"/>
<rect x="95" y="552" width="1" height="4"/>
<rect x="103" y="552" width="1" height="4"/>
<rect x="111" y="552" width="1" height="5"/>
<rect x="119" y="552" width="1" height="5"/>
<rect x="127" y="552" width="1" height="6"/>
<rect x="135" y="552" width="1" height="6"/>
<rect x="143" y="552" width="1" height="7"/>
<rect x="151" y="552" width="1" height="6"/>
<rect x="159" y="552" width="1" height="5"/>
<rect x="167" y="552" width="1" height="5"/>
<rect x="175" y="552" width="1" height="4"/>
<rect x="183" y="552" width="1" height="3"/>
<rect x="191" y="552" width="1" height="3"/>
<rect x="199" y="552" width="1" height="3"/>
<rect x="207" y="552" width="1" height="2"/>
<rect x="215" y="552" width="1" height="2"/>
<rect x="223" y="552" width="1" height="2"/>
<rect x="231" y="552" width="1" height="2"/>
<rect x="239" y="552" width="1" height="1"/>
<rect x="247" y="551" width="1" height="2"/>
<rect x="255" y="550" width="1" height="3"/>
<rect x="263" y="550" width="1" height="3"/>
<rect x="271" y="548" width="1" height="5"/>
<rect x="279" y="547" width="1" height="6"/>
<rect x="287" y="546" width="1" height="7"/>
<rect x="295" y="546" width="1" height="7"/>
<rect x="303" y="546" width="1" height="7"/>
<rect x="311" y="546" width="1" height="7"/>
<rect x="319" y="546" width="1" height="7"/>
<rect x="327" y="546" width="1" height="7"/>
<rect x="335" y="546" width="1" height="7"/>
<rect x="343" y="546" width="1" height="7"/>
<rect x="351" y="546" width="1" height="7"/>
<rect x="359" y="546" width="1" height="7"/>
<rect x="367" y="546" width="1" height="7"/>
<rect x="375" y="546" width="1" height="7"/>
<rect x="383" y="546" width="1" height="7"/>
<rect x="391" y="546" width="1" height="7"/>
<rect x="399" y="546" width="1" height="7"/>
<rect x="407" y="547" width="1" height="6"/>
<rect x="415" y="547" width="1" height="6"/>
<rect x="423" y="547" width="1" height="6"/>
<rect x="431" y="548" width="1" height="5"/>
<rect x="439" y="548" width="1" height="5"/>
<rect x="447" y="549" width="1" height="4"/>
<rect x="455" y="550" width="1" height="3"/>
<rect x="463" y="551" width="1" height="2"/>
<rect x="471" y="551" width="1" height="2"/>
<rect x="479" y="551" width="1" height="2"/>
<rect x="487" y="551" width="1" height="2"/>
<rect x="495" y="551" width="1" height="2"/>
<rect x="503" y="551" width="1" height="2"/>
<rect x="511" y="552" width="1" height="2"/>
<rect x="519" y="552" width="1" height="5"/>
<rect x="527" y="552" width="1" height="7"/>
<rect x="535" y="552" width="1" height="7"/>
<rect x="543" y="552" width="1" height="9"/>
<rect x="551" y="552" width="1" height="7"/>
<rect x="559" y="552" width="1" height="9"/>
<rect x="567" y="552" width="1" height="11"/>
<rect x="575" y="552" width="1" height="15"/>
<rect x="583" y="552" width="1" height="17"/>
<rect x="591" y="552" width="1" height="17"/>
<rect x="599" y="552" width="1" height="19"/>
<rect x="607" y="552" width="1" height="20"/>
<rect x="615" y="552" width="1" height="21"/>
<rect x="623" y="552" width="1" height="22"/>
<rect x="631" y="552" width="1" height="23"/>
<rect x="639" y="552" width="1" height="25"/>
<rect x="647" y="552" width="1" height="27"/>
<rect x="655" y="552" width="1" height="29"/>
<rect x="663" y="552" width="1" height="33"/>
<rect x="671" y="552" width="1" height="39"/>
<rect x="679" y="552" width="1" height="42"/>
<rect x="687" y="552" width="1" height="42"/>
<rect x="695" y="552" width="1" height="40"/>
<rect x="703" y="552" width="1" height="38"/>
<rect x="711" y="552" width="1" height="35"/>
<rect x="719" y="552" width="1" height="32"/>
<rect x="727" y="552" width="1" height="31"/>
<rect x="735" y="552" width="1" height="28"/>
<rect x="743" y="552" width="1" height="25"/>
<rect x="751" y="552" width="1" height="25"/>
<rect x="759" y="552" width="1" height="23"/>
<rect x="767" y="552" width="1" height="20"/>
<rect x="775" y="552" width="1" height="17"/>
<rect x="783" y="552" width="1" height="15"/>
<rect x="791" y="552" width="1" height="13"/>
<rect x="799" y="552" width="1" height="9"/>
<rect x="807" y="552" width="1" height="4"/>
<rect x="815" y="552" width="1" height="2"/>
<rect x="823" y="551" width="1" height="2"/>
<rect x="831" y="549" width="1" height="4"/>
<rect x="839" y="548" width="1" height="5"/>
<rect x="847" y="549" width="1" height="4"/>
<rect x="855" y="548" width="1" height="5"/>
<rect x="863" y="548" width="1" height="5"/>
<rect x="871" y="548" width="1" height="5"/>
<rect x="879" y="548" width="1" height="5"/>
<rect x="887" y="547" width="1" height="6"/>
<rect x="895" y="548" width="1" height="5"/>
<rect x="903" y="550" width="1" height="3"/>
<rect x="911" y="552" width="1" height="1"/>
<rect x="919" y="552" width="1" height="2"/>
<rect x="927" y="552" width="1" height="3"/>
<rect x="935" y="552" width="1" height="5"/>
<rect x="943" y="552" width="1" height="5"/>
<rect x="951" y="552" width="1" height="3"/>
<rect x="959" y="552" width="1" height="2"/>
<rect x="967" y="551" width="1" height="2"/>
<rect x="975" y="549" width="1" height="4"/>
<rect x="983" y="548" width="1" height="5"/>
<rect x="991" y="550" width="1" height="3"/>
<rect x="999" y="552" width="1" height="2"/>
<rect x="1007" y="552" width="1" height="5"/>
<rect x="1015" y="552" width="1" height="9"/>
<rect x="1023" y="552" width="1" height="11"/>
<rect x="1031" y="552" width="1" height="12"/>
<rect x="1039" y="552" width="1" height="13"/>
<rect x="1047" y="552" width="1" height="14"/>
<rect x="1055" y="552" width="1" height="15"/>
<rect x="1063" y="552" width="1" height="15"/>
<rect x="1071" y="552" width="1" height="14"/>
<rect x="1079" y="552" width="1" height="13"/>
<rect x="1087" y="552" width="1" height="11"/>
<rect x="1095" y="552" width="1" height="9"/>
<rect x="1103" y="552" width="1" height="7"/>
<rect x="1111" y="552" width="1" height="4"/>
<rect x="1119" y="552" width="1" height="2"/>
<rect x="1127" y="552" width="1" height="1"/>
<rect x="1135" y="550" width="1" height="3"/>
<rect x="1143" y="548" width="1" height="5"/>
<rect x="1151" y="546" width="1" height="7"/>
<rect x="1159" y="544" width="1" height="9"/>
<rect x="1167" y="543" width="1" height="10"/>
<rect x="1175" y="542" width="1" height="11"/>
<rect x="1183" y="542" width="1" height="11"/>
<rect x="1191" y="541" width="1" height="12"/>
<rect x="1199" y="542" width="1" height="11"/>
<rect x="1207" y="543" width="1" height="10"/>
<rect x="1215" y="545" width="1" height="8"/>
<rect x="1223" y="546" width="1" height="7"/>
<rect x="1231" y="546" width="1" height="7"/>
<rect x="1239" y="546" width="1" height="7"/>
<rect x="1247" y="545" width="1" height="8"/>
<rect x="1255" y="545" width="1" height="8"/>
<rect x="1263" y="544" width="1" height="9"/>
<rect x="1271" y="544" width="1" height="9"/>
<rect x="1279" y="544" width="1" height="9"/>
<rect x="1287" y="544" width="1" height="9"/>
<rect x="1295" y="545" width="1" height="8"/>
<rect x="1303" y="545" width="1" height="8"/>
<rect x="1311" y="546" width="1" height="7"/>
</g>
<polyline points="8,547.6 20,551 55,554 100,555.4 150,556 185,557.4 195,557 215,555 240,553 260,551.6 280,549.6 295,548 315,546.6 345,546.4 450,546.4 470,548.4 500,549.4 520,551.4 540,553.6 560,556.4 580,560.4 600,564.4 620,568 640,572 660,575.4 680,581.4 687,583.6 700,587 720,589.4 730,589 750,585.4 770,580.4 790,575 810,569 830,561 850,554 870,549.4 885,547.4 915,547.4 930,549 945,551.4 960,553.4 980,553.4 990,552.4 1020,553.4 1040,556 1050,559.4 1065,564 1080,565.4 1095,565.4 1110,563.4 1120,562.4 1130,559.4 1140,556.4 1150,554 1165,550.4 1180,547.4 1190,544 1205,542.4 1235,542.4 1245,543.4 1260,544 1311,544" fill="none" stroke="#FF0000" stroke-width="1" stroke-dasharray="3,3" shape-rendering="crispEdges"/>
<text class="ax" x="11.2" y="552" textLength="170.3" lengthAdjust="spacingAndGlyphs">MACD(12,26,9) 7.0748 8.1147</text>
<text class="ax" x="1665.5" y="549.5" textLength="46" lengthAdjust="spacingAndGlyphs">14.4043</text><text class="ax" x="1666" y="556.5" textLength="24.5" lengthAdjust="spacingAndGlyphs">0.00</text><text class="ax" x="1665.5" y="594" textLength="50" lengthAdjust="spacingAndGlyphs">-45.1693</text>
<g shape-rendering="crispEdges">
<line x1="9" y1="638.5" x2="1662" y2="638.5" stroke="#C0C0C0" stroke-width="1" stroke-dasharray="3,3"/>
<line x1="9" y1="689.5" x2="1662" y2="689.5" stroke="#C0C0C0" stroke-width="1" stroke-dasharray="3,3"/>
</g>
<polyline points="7,674.75 15,685.5 23,690 31,692.25 39,690 47,685.25 55,690 63,664 71,662.25 79,657.5 87,656 95,660.5 103,666.75 111,679 119,681.5 127,679 135,681.5 143,677.25 151,671.25 159,671.25 167,668.25 175,666.25 183,663.25 191,662.25 199,657.25 207,663.25 215,649 223,652.25 231,650.25 239,658.25 247,658.25 255,653.75 263,642.25 271,642.25 279,642.25 287,642.25 295,638.5 303,661.25 311,662.5 319,660.25 327,656.25 335,657.5 343,654.5 351,647.25 359,645.5 367,649 375,650.5 383,653.5 391,650.5 399,648.5 407,653.5 415,655.5 423,652.5 431,651.25 439,659 447,673.5 455,670.5 463,665.5 471,663.5 479,660.5 487,662.5 495,661.25 503,661.25 511,691 519,695.5 527,682.25 535,683.5 543,681.25 551,661.5 559,686 567,688.5 575,688.5 583,690.5 591,688.25 599,693.25 607,689.5 615,688.5 623,689.5 631,697.25 639,697.25 647,698.5 655,704 663,707.5 671,713 679,687.5 687,687.5 695,680.5 703,680.5 711,672.25 719,675.5 727,677.5 735,670.25 743,671.25 751,677.5 759,667.25 767,669.5 775,663.25 783,665.5 791,665.5 799,655.25 807,651.25 815,652.25 823,655.5 831,655.5 839,658.5 847,665.5 855,659.75 863,659.5 871,661.5 879,657.25 887,656.25 895,667.25 903,668.5 911,673.25 919,671.25 927,672.5 935,676.25 943,676.25 951,653.25 959,654.5 967,653.25 975,655.25 983,656.5 991,668.5 999,679.5 1007,684.25 1015,681.5 1023,680.25 1031,676.25 1039,676.25 1047,678.25 1055,679.5 1063,675.5 1071,669.5 1079,669.5 1087,666.25 1095,659.5 1103,658.25 1111,657.25 1119,651.5 1127,651.25 1135,647.25 1143,644.25 1151,643 1159,644.5 1167,649.25 1175,645.5 1183,645.5 1191,645.5 1199,654.5 1207,664.25 1215,666.5 1223,661.5 1231,656.25 1239,654.25 1247,648.25 1255,651.5 1263,646.5 1271,653.5 1279,650.25 1287,650.25 1295,663.5 1303,658.5 1311,658.25" fill="none" stroke="#1E90FF" stroke-width="1" shape-rendering="crispEdges"/>
<text class="ax" x="11" y="615" textLength="92" lengthAdjust="spacingAndGlyphs">RSI(14) 54.6678</text>
<text class="ax" x="1666" y="613">100</text>
<text class="ax" x="1666" y="643">70</text>
<text class="ax" x="1666" y="694">30</text>
<text class="ax" x="1666" y="724">0</text>
<text class="ax" x="6.4" y="743" textLength="63.8" lengthAdjust="spacingAndGlyphs">17 Jul 2019</text>
<text class="ax" x="102.4" y="743" textLength="67.5" lengthAdjust="spacingAndGlyphs">19 Jul 12:00</text>
<text class="ax" x="198.4" y="743" textLength="67.5" lengthAdjust="spacingAndGlyphs">23 Jul 08:00</text>
<text class="ax" x="294.4" y="743" textLength="67.5" lengthAdjust="spacingAndGlyphs">25 Jul 08:00</text>
<text class="ax" x="390.4" y="743" textLength="67.5" lengthAdjust="spacingAndGlyphs">29 Jul 04:00</text>
<text class="ax" x="486.4" y="743" textLength="67.5" lengthAdjust="spacingAndGlyphs">31 Jul 04:00</text>
<text class="ax" x="582.4" y="743" textLength="68.8" lengthAdjust="spacingAndGlyphs">2 Aug 04:00</text>
<text class="ax" x="678.4" y="743" textLength="68.8" lengthAdjust="spacingAndGlyphs">6 Aug 00:00</text>
<text class="ax" x="774.4" y="743" textLength="68.8" lengthAdjust="spacingAndGlyphs">8 Aug 00:00</text>
<text class="ax" x="870.4" y="743" textLength="75.6" lengthAdjust="spacingAndGlyphs">11 Aug 23:00</text>
<text class="ax" x="966.4" y="743" textLength="75.6" lengthAdjust="spacingAndGlyphs">13 Aug 20:00</text>
<text class="ax" x="1062.4" y="743" textLength="75.6" lengthAdjust="spacingAndGlyphs">15 Aug 20:00</text>
<text class="ax" x="1158.4" y="743" textLength="75.6" lengthAdjust="spacingAndGlyphs">19 Aug 16:00</text>
<text class="ax" x="1254.4" y="743" textLength="75.6" lengthAdjust="spacingAndGlyphs">21 Aug 16:00</text>
</svg></body></html>
